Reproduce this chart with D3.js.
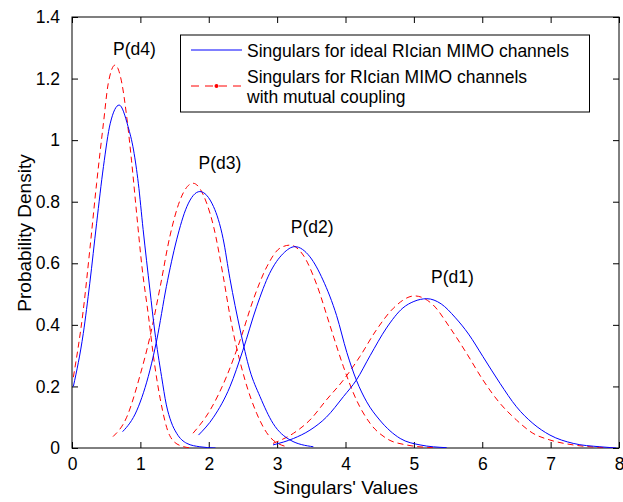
<!DOCTYPE html>
<html>
<head>
<meta charset="utf-8">
<script src="https://cdn.jsdelivr.net/npm/d3@7"></script>
<style>
  body { margin: 0; background: #fff; }
  text { font-family: "Liberation Sans", Arial, sans-serif; font-size: 17.5px; fill: #000; }
</style>
</head>
<body>
<div id="chart"></div>
<script>
// values: [singular value, density]
const d4Ideal = [[0.02,0.20],[0.165,0.372],[0.26,0.535],[0.36,0.73],[0.46,0.914],[0.56,1.055],[0.69,1.114],[0.82,1.044],[0.90,0.968],[0.97,0.86],[1.04,0.71],[1.14,0.513],[1.21,0.38],[1.31,0.232],[1.38,0.14],[1.45,0.085],[1.53,0.048],[1.68,0.015],[1.87,0.004],[2.1,0.0]];
const d4Coupled = [[0.02,0.23],[0.165,0.448],[0.26,0.643],[0.36,0.86],[0.46,1.055],[0.53,1.184],[0.63,1.244],[0.73,1.184],[0.80,1.076],[0.87,0.935],[0.95,0.751],[1.02,0.595],[1.12,0.426],[1.19,0.30],[1.29,0.16],[1.43,0.04],[1.58,0.008],[1.75,0.0]];
const d3Ideal = [[0.74,0.053],[0.95,0.123],[1.14,0.253],[1.24,0.351],[1.38,0.524],[1.53,0.676],[1.68,0.784],[1.87,0.833],[2.07,0.784],[2.21,0.68],[2.31,0.55],[2.46,0.383],[2.60,0.253],[2.75,0.167],[2.94,0.08],[3.19,0.026],[3.53,0.004]];
const d3Coupled = [[0.60,0.037],[0.80,0.10],[0.99,0.232],[1.14,0.361],[1.29,0.524],[1.43,0.686],[1.58,0.805],[1.77,0.86],[1.97,0.795],[2.07,0.72],[2.21,0.56],[2.31,0.43],[2.53,0.221],[2.70,0.113],[2.89,0.037],[3.14,0.004]];
const d2Ideal = [[1.85,0.042],[2.07,0.10],[2.31,0.199],[2.50,0.318],[2.70,0.459],[2.89,0.567],[3.09,0.632],[3.26,0.654],[3.48,0.621],[3.67,0.546],[3.87,0.43],[4.02,0.31],[4.16,0.22],[4.31,0.15],[4.50,0.091],[4.80,0.031],[5.09,0.01],[5.48,0.001]];
const d2Coupled = [[1.77,0.048],[2.02,0.123],[2.26,0.232],[2.46,0.351],[2.65,0.481],[2.85,0.589],[3.04,0.649],[3.19,0.659],[3.38,0.627],[3.58,0.53],[3.77,0.40],[3.97,0.264],[4.16,0.156],[4.36,0.08],[4.60,0.031],[4.89,0.01],[5.28,0.001]];
const d1Ideal = [[2.94,0.01],[3.24,0.031],[3.48,0.058],[3.72,0.10],[3.97,0.167],[4.16,0.221],[4.36,0.30],[4.60,0.39],[4.84,0.455],[5.0,0.476],[5.19,0.485],[5.40,0.468],[5.60,0.425],[5.80,0.37],[6.01,0.297],[6.26,0.21],[6.50,0.134],[6.74,0.08],[6.99,0.042],[7.33,0.015],[7.72,0.004],[7.96,0.0]];
const d1Coupled = [[2.94,0.015],[3.24,0.048],[3.48,0.091],[3.72,0.156],[3.97,0.221],[4.21,0.297],[4.45,0.383],[4.70,0.454],[5.01,0.494],[5.28,0.465],[5.53,0.39],[5.77,0.308],[6.01,0.221],[6.26,0.145],[6.50,0.091],[6.74,0.048],[6.99,0.026],[7.33,0.01],[7.72,0.002],[7.96,0.0]];

const peakLabels = [
  {text: "P(d4)", x: 0.6, y: 1.275},
  {text: "P(d3)", x: 1.85, y: 0.905},
  {text: "P(d2)", x: 3.2, y: 0.7},
  {text: "P(d1)", x: 5.25, y: 0.535}
];
const xTicks = [0, 1, 2, 3, 4, 5, 6, 7, 8];
const yTicks = [0, 0.2, 0.4, 0.6, 0.8, 1, 1.2, 1.4];
const legendLines = ["Singulars for ideal RIcian MIMO channels", "Singulars for RIcian MIMO channels", "with mutual coupling"];

const width = 623, height = 502;
const m = {left: 72, right: 619, top: 17, bottom: 448};

const svg = d3.select("#chart").append("svg")
  .attr("width", width)
  .attr("height", height);

const x = d3.scaleLinear().domain([0, 8]).range([m.left, m.right]);
const y = d3.scaleLinear().domain([0, 1.4]).range([m.bottom, m.top]);

svg.append("clipPath").attr("id", "plotclip")
  .append("rect")
  .attr("x", m.left).attr("y", m.top)
  .attr("width", m.right - m.left).attr("height", m.bottom - m.top);

// axes, MATLAB style box with inward ticks
const tick = 6;
svg.append("g")
  .attr("transform", `translate(0,${m.bottom})`)
  .call(d3.axisBottom(x).tickValues(xTicks).tickSize(-tick).tickPadding(tick + 4).tickFormat(d3.format("d")))
  .call(g => g.select(".domain").remove());
svg.append("g")
  .attr("transform", `translate(0,${m.top})`)
  .call(d3.axisTop(x).tickValues(xTicks).tickSize(-tick).tickFormat(""))
  .call(g => g.select(".domain").remove());
svg.append("g")
  .attr("transform", `translate(${m.left},0)`)
  .call(d3.axisLeft(y).tickValues(yTicks).tickSize(-tick).tickPadding(tick + 6).tickFormat(d => String(+d.toFixed(1))))
  .call(g => g.select(".domain").remove());
svg.append("g")
  .attr("transform", `translate(${m.right},0)`)
  .call(d3.axisRight(y).tickValues(yTicks).tickSize(-tick).tickFormat(""))
  .call(g => g.select(".domain").remove());

svg.selectAll(".tick text")
  .style("font-family", "'Liberation Sans', Arial, sans-serif")
  .style("font-size", "17.5px")
  .attr("fill", "#000");
svg.selectAll(".tick line").attr("stroke", "#000");

svg.append("rect")
  .attr("x", m.left).attr("y", m.top)
  .attr("width", m.right - m.left).attr("height", m.bottom - m.top)
  .attr("fill", "none").attr("stroke", "#000").attr("stroke-width", 1);

// curves
const line = d3.line()
  .x(d => x(d[0]))
  .y(d => y(d[1]))
  .curve(d3.curveMonotoneX);

const plot = svg.append("g").attr("clip-path", "url(#plotclip)");

[d4Coupled, d3Coupled, d2Coupled, d1Coupled].forEach(s => {
  plot.append("path")
    .datum(s)
    .attr("fill", "none")
    .attr("stroke", "#ff0000")
    .attr("stroke-width", 1)
    .attr("stroke-dasharray", "6,4")
    .attr("d", line);
});
[d4Ideal, d3Ideal, d2Ideal, d1Ideal].forEach(s => {
  plot.append("path")
    .datum(s)
    .attr("fill", "none")
    .attr("stroke", "#0000ff")
    .attr("stroke-width", 1)
    .attr("d", line);
});

// peak labels
svg.selectAll(".peak")
  .data(peakLabels)
  .enter().append("text")
  .attr("class", "peak")
  .attr("x", d => x(d.x))
  .attr("y", d => y(d.y))
  .text(d => d.text);

// axis titles (a bit bigger than the tick labels)
svg.append("text")
  .attr("x", (m.left + m.right) / 2)
  .attr("y", 494)
  .attr("text-anchor", "middle")
  .style("font-size", "19px")
  .text("Singulars' Values");
svg.append("text")
  .attr("transform", "translate(31,233) rotate(-90)")
  .attr("text-anchor", "middle")
  .style("font-size", "19px")
  .text("Probability Density");

// legend
const lg = svg.append("g");
lg.append("rect")
  .attr("x", 180.5).attr("y", 35)
  .attr("width", 409).attr("height", 77)
  .attr("fill", "#fff").attr("stroke", "#000").attr("stroke-width", 1);
lg.append("line")
  .attr("x1", 191).attr("x2", 242).attr("y1", 50).attr("y2", 50)
  .attr("stroke", "#0000ff").attr("stroke-width", 1);
lg.append("line")
  .attr("x1", 191).attr("x2", 242).attr("y1", 86).attr("y2", 86)
  .attr("stroke", "#ff0000").attr("stroke-width", 1).attr("stroke-dasharray", "8,6");
lg.append("circle")
  .attr("cx", 216.5).attr("cy", 86).attr("r", 2)
  .attr("fill", "#ff0000");
lg.selectAll(".lt")
  .data(legendLines)
  .enter().append("text")
  .attr("class", "lt")
  .attr("x", 247)
  .attr("y", (d, i) => [57, 83, 103][i])
  .text(d => d);
</script>
</body>
</html>
